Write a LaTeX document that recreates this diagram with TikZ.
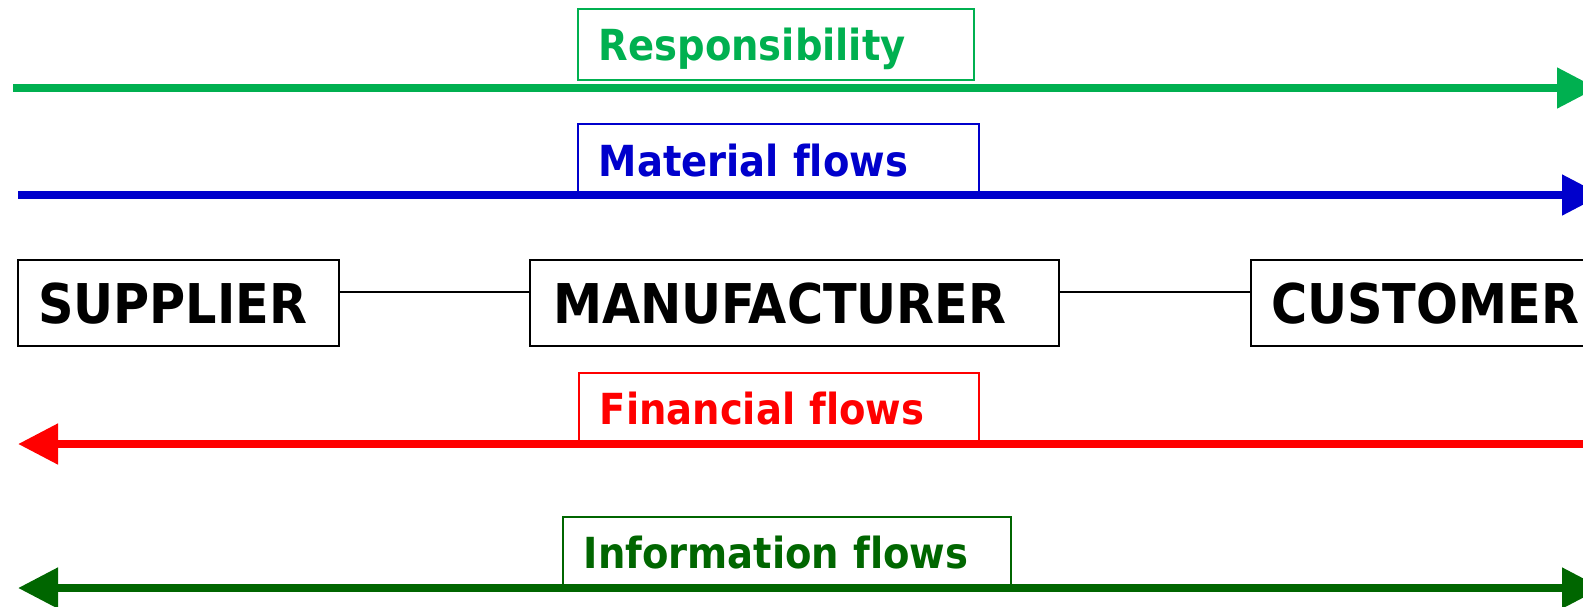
\documentclass[tikz,border=0pt]{standalone}
\usepackage{fontspec}
\setmainfont{DejaVu Sans Condensed Bold}[Ligatures = NoCommon]
\usetikzlibrary{arrows.meta}
\definecolor{respgreen}{HTML}{00B050}
\definecolor{matblue}{HTML}{0000CC}
\definecolor{finred}{HTML}{FF0000}
\definecolor{infogreen}{HTML}{006600}
\begin{document}
\begin{tikzpicture}[x = 0.5pt, y = -0.5pt,
                    main node/.style = {draw, line width = 1pt, rectangle, anchor = north west, font = \fontsize{27.4pt}{30pt}\selectfont,
                                        minimum height = 43pt, text height = 20pt, text depth = 0pt, align = left},
                    flow box/.style = {draw, line width = 0.75pt, fill = white, rectangle, anchor = north west, font = \fontsize{21.4pt}{26pt}\selectfont,
                                       text height = 16pt, text depth = 0pt, inner xsep = 10.5pt, align = left},
                    flow line/.style = {line width = 4pt},
                    big tip/.style = {-{Triangle[length = 20pt, width = 19.5pt]}}]
                    \useasboundingbox (0, 0) rectangle (1583, 606);

                    \node at (17, 259) [main node, inner xsep = 10pt, text width = 140.5pt] (supplier) {SUPPLIER};
                    \node at (529, 259) [main node, inner xsep = 11.5pt, text width = 241.5pt] (manufacturer) {MANUFACTURER};
                    \node at (1250, 259) [main node, inner xsep = 10pt, text width = 155pt] (customer) {CUSTOMER};

                    \draw [line width = 1pt] ([yshift = 5.5pt]supplier.east) -- ([yshift = 5.5pt]manufacturer.west);
                    \draw [line width = 1pt] ([yshift = 5.5pt]manufacturer.east) -- ([yshift = 5.5pt]customer.west);

                    \node at (577, 8) [flow box, draw = respgreen, text = respgreen, text width = 177pt, minimum height = 35.5pt] (resp) {Responsibility};
                    \node at (577, 123) [flow box, draw = matblue, text = matblue, text width = 179.5pt, minimum height = 36.5pt] (material) {Material flows};
                    \node at (578, 372) [flow box, draw = finred, text = finred, text width = 179pt, minimum height = 36pt] (financial) {Financial flows};
                    \node at (562, 516) [flow box, draw = infogreen, text = infogreen, text width = 203pt, minimum height = 36pt] (information) {Information flows};

                    \coordinate (resp start) at (13, 88);
                    \coordinate (resp end) at (1597, 88);
                    \coordinate (mat start) at (18, 195);
                    \coordinate (mat end) at (1602, 195);
                    \coordinate (fin start) at (1600, 444);
                    \coordinate (fin end) at (18, 444);
                    \coordinate (info start) at (18, 588);
                    \coordinate (info end) at (1602, 588);

                    \draw [flow line, big tip, respgreen] (resp start) -- (resp end);
                    \draw [flow line, big tip, matblue] (mat start) -- (mat end);
                    \draw [flow line, big tip, finred] (fin start) -- (fin end);
                    \draw [flow line, {Triangle[length = 20pt, width = 19.5pt]}-{Triangle[length = 20pt, width = 19.5pt]}, infogreen] (info start) -- (info end);
                \end{tikzpicture}
\end{document}
